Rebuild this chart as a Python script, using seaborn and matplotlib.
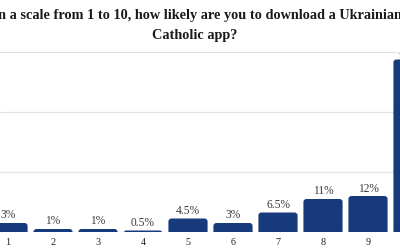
import matplotlib
matplotlib.use("Agg")
import matplotlib.pyplot as plt
import seaborn as sns
import pandas as pd
from matplotlib.patches import FancyBboxPatch

categories = ["1", "2", "3", "4", "5", "6", "7", "8", "9", "10"]
values = [3, 1, 1, 0.5, 4.5, 3, 6.5, 11, 12, 57.5]
labels = ["3%", "1%", "1%", "0.5%", "4.5%", "3%", "6.5%", "11%", "12%", "57.5%"]

sns.set_theme(style="white")
plt.rcParams["font.family"] = ["Liberation Serif", "DejaVu Serif"]

W, H = 400, 250
fig = plt.figure(figsize=(4, 2.5), dpi=100)
base_px = 232
top_px = 52
ax = fig.add_axes([0, (H - base_px) / H, 1, (base_px - top_px) / H])

df = pd.DataFrame({"cat": categories, "val": values})
color = "#173a7c"
sns.barplot(data=df, x="cat", y="val", color=color, width=0.87, ax=ax,
            saturation=1, zorder=3)

# pixel mapping: category i center at 8 + 45*i px
ax.set_xlim(-8 / 45, (W - 8) / 45)
ax.set_ylim(0, 60)

# replace bars with rounded ones
px_x = 45.0  # px per x unit
px_y = (base_px - top_px) / 60.0  # px per y unit
r_px = 3.0
for p in list(ax.patches):
    x0, w, h = p.get_x(), p.get_width(), p.get_height()
    p.remove()
    ext = r_px / px_y
    fb = FancyBboxPatch((x0, -ext), w, h + ext,
                        boxstyle=f"round,pad=0,rounding_size={r_px/px_x}",
                        mutation_aspect=px_x / px_y,
                        facecolor=color, edgecolor="none", zorder=3)
    ax.add_patch(fb)

for i, (v, lab) in enumerate(zip(values, labels)):
    ax.text(i, v + 0.5, lab, ha="center", va="bottom", fontsize=8.3,
            color="#3a3a3a", zorder=4)

ax.set_yticks([0, 20, 40, 60])
ax.yaxis.grid(True, color="#e3e3e3", linewidth=0.9, zorder=0)
ax.set_yticklabels([])
ax.tick_params(axis="y", length=0)
ax.tick_params(axis="x", length=0, labelsize=7.3, labelcolor="#222222", pad=4)
ax.set_xlabel("")
ax.set_ylabel("")
for s in ax.spines.values():
    s.set_visible(False)

fig.text(194.5 / W, 1 - 25.5 / H,
         "On a scale from 1 to 10, how likely are you to download a Ukrainian\nCatholic app?",
         ha="center", va="center", fontsize=10.3, fontweight="bold",
         color="#1a1a1a", linespacing=1.6)

fig.savefig("out.png", dpi=100)
